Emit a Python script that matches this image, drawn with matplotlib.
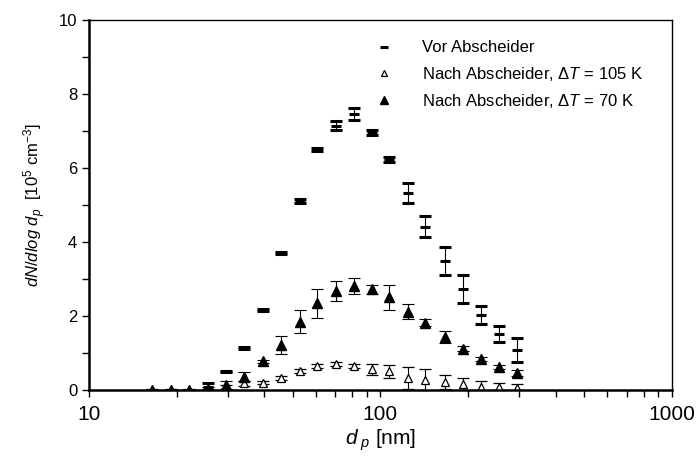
import matplotlib.pyplot as plt
from matplotlib.ticker import FixedLocator, MultipleLocator, NullFormatter

plt.rcParams['font.family'] = ['Liberation Sans', 'DejaVu Sans']
plt.rcParams['mathtext.fontset'] = 'custom'
plt.rcParams['mathtext.rm'] = 'Liberation Sans'
plt.rcParams['mathtext.it'] = 'Liberation Sans:italic'

# Partikeldurchmesser [nm]
dp = [16.4, 19.1, 22.0, 25.6, 29.5, 34.0, 39.5, 45.5, 52.8, 60.7, 70.5,
      81.0, 93.4, 107.4, 124.0, 142.6, 166.5, 191.4, 222.0, 255.6, 294.0]

# dN/dlog dp [10^5 cm^-3]
vor = [0.0, 0.0, 0.0, 0.08, 0.5, 1.13, 2.16, 3.71, 5.11, 6.49, 7.14,
       7.45, 6.95, 6.23, 5.32, 4.41, 3.49, 2.73, 2.03, 1.51, 1.08]
vor_err = [0.0, 0.0, 0.0, 0.1, 0.02, 0.02, 0.03, 0.03, 0.05, 0.04, 0.12,
           0.16, 0.07, 0.06, 0.28, 0.28, 0.38, 0.38, 0.25, 0.22, 0.32]

nach_105 = [0.0, 0.0, 0.0, 0.02, 0.09, 0.18, 0.2, 0.33, 0.52, 0.65, 0.70,
            0.65, 0.56, 0.50, 0.33, 0.27, 0.22, 0.16, 0.09, 0.09, 0.05]
nach_105_err = [0.0, 0.0, 0.0, 0.02, 0.05, 0.06, 0.04, 0.05, 0.05, 0.05, 0.06,
                0.06, 0.15, 0.18, 0.3, 0.3, 0.18, 0.16, 0.14, 0.1, 0.12]

nach_70 = [0.0, 0.0, 0.01, 0.03, 0.13, 0.36, 0.77, 1.22, 1.85, 2.34, 2.68,
           2.81, 2.72, 2.50, 2.12, 1.82, 1.44, 1.11, 0.84, 0.63, 0.47]
nach_70_err = [0.02, 0.02, 0.02, 0.05, 0.1, 0.13, 0.05, 0.24, 0.32, 0.39, 0.27,
               0.22, 0.13, 0.33, 0.2, 0.1, 0.16, 0.07, 0.05, 0.05, 0.08]

fig = plt.figure(figsize=(6.99, 4.63), dpi=100)
ax = fig.add_axes([0.1273, 0.1577, 0.8337, 0.7993])

err_kw = dict(ecolor='black', elinewidth=0.8, capsize=4.5, capthick=0.8, linestyle='none')
c1 = ax.errorbar(dp, vor, yerr=vor_err, marker='_', ms=7.5, mew=2.2, color='black', **err_kw)
c2 = ax.errorbar(dp, nach_105, yerr=nach_105_err, marker='^', ms=6, mfc='white',
                 mec='black', mew=0.9, **err_kw)
c3 = ax.errorbar(dp, nach_70, yerr=nach_70_err, marker='^', ms=7, mfc='black',
                 mec='black', **err_kw)

ax.set_xscale('log')
ax.set_xlim(10, 1000)
ax.set_ylim(0, 10)
ax.xaxis.set_major_locator(FixedLocator([10, 100, 1000]))
ax.xaxis.set_major_formatter(plt.FuncFormatter(lambda v, p: f'{v:g}'))
ax.xaxis.set_minor_formatter(NullFormatter())
ax.yaxis.set_major_locator(MultipleLocator(2))
ax.yaxis.set_minor_locator(MultipleLocator(1))

ax.tick_params(axis='x', which='major', direction='out', length=5, width=1, labelsize=15, pad=6)
ax.tick_params(axis='x', which='minor', direction='out', length=5, width=1)
ax.tick_params(axis='y', which='major', direction='out', length=5, width=1, labelsize=12)
ax.tick_params(axis='y', which='minor', direction='out', length=5, width=1)

for side in ['left', 'bottom']:
    ax.spines[side].set_linewidth(1.8)
for side in ['top', 'right']:
    ax.spines[side].set_linewidth(1.0)

ax.set_xlabel(r'$d_{\ p}$ [nm]', fontsize=15, labelpad=2)
ax.set_ylabel(r'$dN/dlog\ d_p$  [10$^5$ cm$^{-3}$]', fontsize=12, labelpad=8)

labels = ['Vor Abscheider',
          r'Nach Abscheider, $\mathit{\Delta T}$ = 105 K',
          r'Nach Abscheider, $\mathit{\Delta T}$ = 70 K']
ax.legend([c1[0], c2[0], c3[0]], labels, loc='upper right', bbox_to_anchor=(0.977, 0.985),
          frameon=False, fontsize=12, markerscale=0.8, handlelength=1.0,
          handletextpad=1.8, labelspacing=0.55, borderaxespad=0.5)

fig.savefig('out.png', dpi=100)
